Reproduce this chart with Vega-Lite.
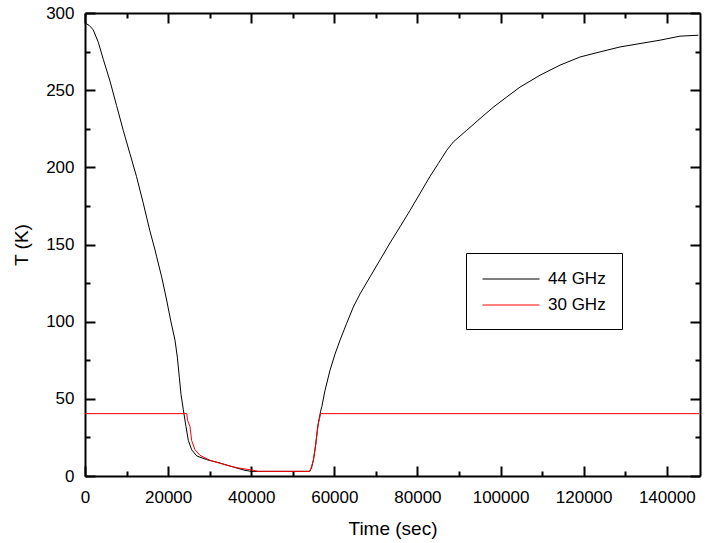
{
  "$schema": "https://vega.github.io/schema/vega-lite/v6.json",
  "width": 615,
  "height": 463,
  "autosize": {"type": "none"},
  "padding": {"left": 85, "top": 13, "right": 5, "bottom": 67},
  "background": "white",
  "config": {
    "view": {"stroke": null},
    "font": "Liberation Sans",
    "axis": {
      "domainColor": "black", "domainWidth": 2, "tickColor": "black", "tickWidth": 2, "ticks": true,
      "grid": false, "labelColor": "black", "titleColor": "black",
      "labelFont": "Liberation Sans", "titleFont": "Liberation Sans",
      "labelFontSize": 17, "titleFontSize": 19, "titleFontWeight": "normal"
    }
  },
  "data": {"values": [
    {"t": 0, "T": 293.5, "s": "44 GHz"},
    {"t": 1000, "T": 292, "s": "44 GHz"},
    {"t": 2000, "T": 289, "s": "44 GHz"},
    {"t": 3200, "T": 281, "s": "44 GHz"},
    {"t": 4400, "T": 270, "s": "44 GHz"},
    {"t": 6000, "T": 256, "s": "44 GHz"},
    {"t": 7600, "T": 240, "s": "44 GHz"},
    {"t": 9200, "T": 224, "s": "44 GHz"},
    {"t": 10800, "T": 209, "s": "44 GHz"},
    {"t": 12400, "T": 194, "s": "44 GHz"},
    {"t": 14000, "T": 177, "s": "44 GHz"},
    {"t": 15600, "T": 159, "s": "44 GHz"},
    {"t": 16800, "T": 147, "s": "44 GHz"},
    {"t": 17250, "T": 142, "s": "44 GHz"},
    {"t": 18450, "T": 129, "s": "44 GHz"},
    {"t": 19650, "T": 114, "s": "44 GHz"},
    {"t": 20600, "T": 101, "s": "44 GHz"},
    {"t": 21660, "T": 88, "s": "44 GHz"},
    {"t": 22220, "T": 77, "s": "44 GHz"},
    {"t": 22700, "T": 64, "s": "44 GHz"},
    {"t": 23100, "T": 53, "s": "44 GHz"},
    {"t": 23660, "T": 43, "s": "44 GHz"},
    {"t": 24300, "T": 32, "s": "44 GHz"},
    {"t": 24870, "T": 23, "s": "44 GHz"},
    {"t": 25670, "T": 17, "s": "44 GHz"},
    {"t": 26880, "T": 13, "s": "44 GHz"},
    {"t": 29280, "T": 10.6, "s": "44 GHz"},
    {"t": 32500, "T": 8.4, "s": "44 GHz"},
    {"t": 35700, "T": 5.8, "s": "44 GHz"},
    {"t": 38500, "T": 3.7, "s": "44 GHz"},
    {"t": 40000, "T": 3, "s": "44 GHz"},
    {"t": 54000, "T": 3, "s": "44 GHz"},
    {"t": 54500, "T": 5, "s": "44 GHz"},
    {"t": 55000, "T": 11, "s": "44 GHz"},
    {"t": 55500, "T": 20, "s": "44 GHz"},
    {"t": 56000, "T": 32, "s": "44 GHz"},
    {"t": 56700, "T": 42, "s": "44 GHz"},
    {"t": 57000, "T": 45, "s": "44 GHz"},
    {"t": 57760, "T": 55.5, "s": "44 GHz"},
    {"t": 58960, "T": 68.5, "s": "44 GHz"},
    {"t": 60170, "T": 79, "s": "44 GHz"},
    {"t": 61370, "T": 88, "s": "44 GHz"},
    {"t": 62980, "T": 99, "s": "44 GHz"},
    {"t": 64570, "T": 109.5, "s": "44 GHz"},
    {"t": 66190, "T": 118, "s": "44 GHz"},
    {"t": 68590, "T": 129, "s": "44 GHz"},
    {"t": 71000, "T": 140, "s": "44 GHz"},
    {"t": 73400, "T": 151, "s": "44 GHz"},
    {"t": 75800, "T": 161.4, "s": "44 GHz"},
    {"t": 78200, "T": 172, "s": "44 GHz"},
    {"t": 80600, "T": 183, "s": "44 GHz"},
    {"t": 83000, "T": 194, "s": "44 GHz"},
    {"t": 85030, "T": 202.5, "s": "44 GHz"},
    {"t": 87040, "T": 211, "s": "44 GHz"},
    {"t": 88650, "T": 216.5, "s": "44 GHz"},
    {"t": 91860, "T": 224, "s": "44 GHz"},
    {"t": 95070, "T": 231.6, "s": "44 GHz"},
    {"t": 98270, "T": 239, "s": "44 GHz"},
    {"t": 101490, "T": 245.6, "s": "44 GHz"},
    {"t": 104690, "T": 252, "s": "44 GHz"},
    {"t": 109500, "T": 259.7, "s": "44 GHz"},
    {"t": 114300, "T": 266.2, "s": "44 GHz"},
    {"t": 119130, "T": 271.5, "s": "44 GHz"},
    {"t": 123950, "T": 274.8, "s": "44 GHz"},
    {"t": 128760, "T": 278, "s": "44 GHz"},
    {"t": 133570, "T": 280.2, "s": "44 GHz"},
    {"t": 138390, "T": 282.4, "s": "44 GHz"},
    {"t": 143200, "T": 285, "s": "44 GHz"},
    {"t": 147600, "T": 285.6, "s": "44 GHz"},
    {"t": 0, "T": 40.4, "s": "30 GHz"},
    {"t": 24470, "T": 40.4, "s": "30 GHz"},
    {"t": 24700, "T": 36, "s": "30 GHz"},
    {"t": 25270, "T": 32, "s": "30 GHz"},
    {"t": 25670, "T": 23, "s": "30 GHz"},
    {"t": 26470, "T": 17, "s": "30 GHz"},
    {"t": 27680, "T": 13.4, "s": "30 GHz"},
    {"t": 30080, "T": 10.2, "s": "30 GHz"},
    {"t": 33280, "T": 7.6, "s": "30 GHz"},
    {"t": 36500, "T": 5.4, "s": "30 GHz"},
    {"t": 40500, "T": 3.7, "s": "30 GHz"},
    {"t": 41700, "T": 3, "s": "30 GHz"},
    {"t": 54150, "T": 3, "s": "30 GHz"},
    {"t": 54950, "T": 10, "s": "30 GHz"},
    {"t": 55500, "T": 20, "s": "30 GHz"},
    {"t": 56160, "T": 34, "s": "30 GHz"},
    {"t": 56700, "T": 40.4, "s": "30 GHz"},
    {"t": 147800, "T": 40.4, "s": "30 GHz"}
  ]},
  "layer": [
    {
      "mark": {"type": "line", "strokeWidth": 1, "clip": true},
      "encoding": {
        "x": {
          "field": "t", "type": "quantitative",
          "scale": {"domain": [0, 148000], "nice": false, "zero": false},
          "axis": {
            "orient": "bottom", "title": "Time (sec)",
            "values": [0, 20000, 40000, 60000, 80000, 100000, 120000, 140000],
            "format": "d", "tickSize": -10, "tickColor": "black", "tickWidth": 2,
            "domainWidth": 2, "domainColor": "black",
            "labelPadding": 23, "titlePadding": 14, "labelFlush": false
          }
        },
        "y": {
          "field": "T", "type": "quantitative",
          "scale": {"domain": [0, 300], "nice": false},
          "axis": {
            "orient": "left", "title": "T (K)",
            "values": [0, 50, 100, 150, 200, 250, 300],
            "tickSize": -10, "tickColor": "black", "tickWidth": 2,
            "domainWidth": 2, "domainColor": "black",
            "labelPadding": 21, "titlePadding": 14, "labelFlush": false
          }
        },
        "color": {
          "field": "s", "type": "nominal",
          "scale": {"domain": ["44 GHz", "30 GHz"], "range": ["black", "#ff0000"]},
          "legend": {
            "title": null, "orient": "none", "legendX": 381, "legendY": 240,
            "direction": "vertical", "strokeColor": "black", "fillColor": "white",
            "padding": 16, "symbolType": "M-3,0H3", "symbolSize": 361,
            "symbolStrokeWidth": 1, "symbolOffset": 19, "labelOffset": 27,
            "labelFontSize": 17, "labelFont": "Liberation Sans", "labelColor": "black",
            "rowPadding": 8
          }
        }
      }
    },
    {
      "mark": {"type": "line", "opacity": 0},
      "encoding": {
        "x": {
          "field": "t", "type": "quantitative",
          "axis": {
            "orient": "bottom", "title": null, "labels": false, "domain": false,
            "values": [10000, 30000, 50000, 70000, 90000, 110000, 130000],
            "tickSize": -5, "tickColor": "black", "tickWidth": 2
          }
        },
        "y": {
          "field": "T", "type": "quantitative",
          "axis": {
            "orient": "left", "title": null, "labels": false, "domain": false,
            "values": [25, 75, 125, 175, 225, 275],
            "tickSize": -5, "tickColor": "black", "tickWidth": 2
          }
        }
      }
    },
    {
      "mark": {"type": "line", "opacity": 0},
      "encoding": {
        "x": {
          "field": "t", "type": "quantitative",
          "axis": {
            "orient": "top", "title": null, "labels": false,
            "values": [0, 20000, 40000, 60000, 80000, 100000, 120000, 140000],
            "tickSize": -10, "tickColor": "black", "tickWidth": 2,
            "domainWidth": 2, "domainColor": "black"
          }
        },
        "y": {
          "field": "T", "type": "quantitative",
          "axis": {
            "orient": "right", "title": null, "labels": false,
            "values": [0, 50, 100, 150, 200, 250, 300],
            "tickSize": -10, "tickColor": "black", "tickWidth": 2,
            "domainWidth": 2, "domainColor": "black"
          }
        }
      }
    },
    {
      "mark": {"type": "line", "opacity": 0},
      "encoding": {
        "x": {
          "field": "t", "type": "quantitative",
          "axis": {
            "orient": "top", "title": null, "labels": false, "domain": false,
            "values": [10000, 30000, 50000, 70000, 90000, 110000, 130000],
            "tickSize": -5, "tickColor": "black", "tickWidth": 2
          }
        },
        "y": {
          "field": "T", "type": "quantitative",
          "axis": {
            "orient": "right", "title": null, "labels": false, "domain": false,
            "values": [25, 75, 125, 175, 225, 275],
            "tickSize": -5, "tickColor": "black", "tickWidth": 2
          }
        }
      }
    }
  ],
  "resolve": {"axis": {"x": "independent", "y": "independent"}}
}
